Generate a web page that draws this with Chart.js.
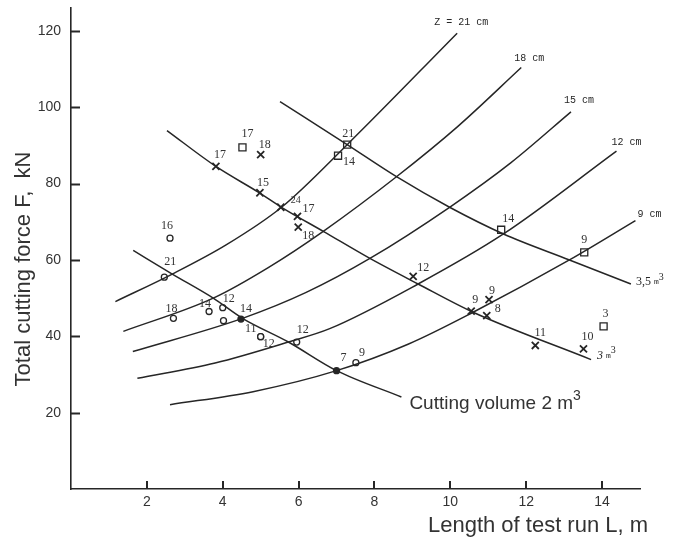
<!DOCTYPE html>
<html>
<head>
<meta charset="utf-8">
<script src="https://cdn.jsdelivr.net/npm/chart.js@4.4.0/dist/chart.umd.min.js"></script>
<style>
  body { margin: 0; background: #fff; }
  #wrap { width: 673px; height: 537px; }
</style>
</head>
<body>
<div id="wrap"><canvas id="chart" width="673" height="537"></canvas></div>
<script>
// axis ticks
const xTicks = [2, 4, 6, 8, 10, 12, 14];
const yTicks = [20, 40, 60, 80, 100, 120];

// depth curves Z : length L (m) -> force F (kN)
const z21L = [1.17, 2.67, 4.1, 5.55, 7.28, 10.18];
const z21F = [49.1, 56.3, 64.0, 73.8, 90.2, 119.4];
const z18L = [1.38, 3.75, 5.2, 6.65, 8.58, 10.2, 11.87];
const z18F = [41.3, 50.0, 58.0, 67.5, 81.8, 95.0, 110.4];
const z15L = [1.63, 4.52, 6.2, 7.88, 9.98, 11.6, 13.18];
const z15F = [36.0, 44.7, 51.5, 60.4, 73.8, 85.5, 98.8];
const z12L = [1.75, 3.8, 5.73, 6.82, 9.15, 11.4, 14.38];
const z12F = [29.0, 33.0, 38.5, 42.0, 53.7, 66.8, 88.5];
const z9L = [2.61, 4.8, 7.0, 8.9, 10.6, 13.14, 14.88];
const z9F = [22.1, 25.5, 31.0, 38.0, 46.3, 60.0, 70.3];

// cutting volume curves
const v2L = [1.64, 2.67, 3.75, 4.52, 5.73, 7.0, 8.71];
const v2F = [62.5, 56.3, 50.0, 44.7, 38.5, 31.0, 24.1];
const v3L = [2.53, 3.82, 4.98, 5.55, 6.65, 7.88, 9.15, 10.6, 13.71];
const v3F = [93.9, 84.5, 77.5, 73.8, 67.5, 60.4, 53.7, 46.3, 33.9];
const v35L = [5.51, 7.28, 8.58, 9.98, 11.4, 13.14, 14.76];
const v35F = [101.5, 90.2, 81.8, 73.8, 66.8, 60.0, 53.7];

// measured points
const circleL = [2.61, 2.46, 2.7, 3.64, 4.0, 4.02, 4.48, 5.0, 5.0, 5.95, 7.0, 7.51];
const circleF = [65.7, 55.5, 44.7, 46.5, 47.5, 44.1, 44.5, 39.9, 39.9, 38.5, 31.0, 33.1];
const circleTxt = ['16', '21', '18', '14', '12', '', '14', '11', '12', '12', '7', '9'];
const crossL = [3.82, 5.0, 4.98, 5.53, 5.97, 5.99, 9.02, 10.55, 11.02, 10.96, 12.24, 13.51];
const crossF = [84.5, 87.6, 77.6, 73.8, 71.4, 68.6, 55.7, 46.6, 49.6, 45.4, 37.6, 36.7];
const crossTxt = ['17', '18', '15', '24', '17', '18', '12', '9', '9', '8', '11', '10'];
const squareL = [4.52, 7.04, 7.28, 11.34, 13.53, 14.04];
const squareF = [89.5, 87.3, 90.2, 67.9, 62.0, 42.6];
const squareTxt = ['17', '14', '21', '14', '9', '3'];

// label placement (pixel offsets from the point)
const circleOff = [[-3,-12],[6,-15],[-2,-10],[-4,-8],[6,-9],[0,0],[5,-10],[-10,-8],[8,7],[6,-12],[7,-13],[6,-10]];
const crossOff = [[4,-12],[4,-10],[3,-10],[15,-7],[11,-8],[10,9],[10,-9],[4,-11],[3,-9],[11,-7],[5,-13],[4,-12]];
const squareOff = [[5,-13],[11,6],[1,-11],[7,-11],[0,-12],[2,-13]];
const filledCircles = [6, 10];

const INK = '#262626';

function pts(xs, ys) {
  return xs.map((x, i) => ({ x: x, y: ys[i] }));
}

function curve(xs, ys) {
  return {
    data: pts(xs, ys),
    showLine: true,
    borderColor: INK,
    borderWidth: 1.5,
    pointRadius: 0,
    cubicInterpolationMode: 'monotone',
    fill: false
  };
}

const curves = [
  { xs: z21L, ys: z21F },
  { xs: z18L, ys: z18F },
  { xs: z15L, ys: z15F },
  { xs: z12L, ys: z12F },
  { xs: z9L, ys: z9F },
  { xs: v2L, ys: v2F },
  { xs: v3L, ys: v3F },
  { xs: v35L, ys: v35F }
];

const datasets = curves.map(c => curve(c.xs, c.ys));
datasets.push({
  data: pts(circleL, circleF),
  pointStyle: 'circle',
  pointRadius: 3,
  borderWidth: 1.3,
  borderColor: INK,
  backgroundColor: circleL.map((v, i) => filledCircles.includes(i) ? INK : '#fff'),
  showLine: false
});
datasets.push({
  data: pts(crossL, crossF),
  pointStyle: 'crossRot',
  pointRadius: 5,
  borderWidth: 1.8,
  borderColor: INK,
  showLine: false
});
datasets.push({
  data: pts(squareL, squareF),
  pointStyle: 'rect',
  pointRadius: 5,
  borderWidth: 1.3,
  borderColor: INK,
  backgroundColor: '#fff',
  showLine: false
});

// text drawn in pieces so "m3" can have a raised 3
function drawParts(ctx, x, y, parts) {
  let cx = x;
  parts.forEach(p => {
    ctx.font = p.font;
    ctx.fillText(p.t, cx, y - (p.up || 0));
    cx += ctx.measureText(p.t).width;
  });
}

const annotate = {
  id: 'annotate',
  afterDraw(chart) {
    const ctx = chart.ctx;
    const xs = chart.scales.x, ys = chart.scales.y;
    const area = chart.chartArea;
    ctx.save();

    // inner tick marks
    ctx.strokeStyle = INK;
    ctx.lineWidth = 2;
    yTicks.forEach(v => {
      const py = Math.round(ys.getPixelForValue(v)) + 0.5;
      ctx.beginPath(); ctx.moveTo(area.left, py); ctx.lineTo(area.left + 9, py); ctx.stroke();
    });
    xTicks.forEach(v => {
      const px = Math.round(xs.getPixelForValue(v));
      ctx.beginPath(); ctx.moveTo(px, area.bottom); ctx.lineTo(px, area.bottom - 8); ctx.stroke();
    });

    // point numbers
    ctx.fillStyle = '#333';
    ctx.textAlign = 'center';
    ctx.textBaseline = 'middle';
    const groups = [
      [circleL, circleF, circleTxt, circleOff],
      [crossL, crossF, crossTxt, crossOff],
      [squareL, squareF, squareTxt, squareOff]
    ];
    groups.forEach(([gl, gf, gt, go]) => {
      gl.forEach((l, i) => {
        if (!gt[i]) return;
        ctx.font = gt[i] === '24' ? '10px "Liberation Serif"' : '12px "Liberation Serif"';
        ctx.fillText(gt[i], xs.getPixelForValue(l) + go[i][0], ys.getPixelForValue(gf[i]) + go[i][1]);
      });
    });

    // curve names at the ends
    ctx.textAlign = 'left';
    ctx.fillStyle = INK;
    const endOf = (L, F) => [xs.getPixelForValue(L[L.length - 1]), ys.getPixelForValue(F[F.length - 1])];
    const mono = '10px "Liberation Mono"';
    const depthNames = [
      [z21L, z21F, 'Z = 21 cm', -23, -11],
      [z18L, z18F, '18 cm', -7, -9],
      [z15L, z15F, '15 cm', -7, -11],
      [z12L, z12F, '12 cm', -5, -9],
      [z9L, z9F, '9 cm', 2, -6]
    ];
    depthNames.forEach(([L, F, t, dx, dy]) => {
      const [px, py] = endOf(L, F);
      ctx.font = mono;
      ctx.fillText(t, px + dx, py + dy);
    });

    let [px, py] = endOf(v35L, v35F);
    drawParts(ctx, px + 5, py - 2, [
      { t: '3,5 ', font: '12px "Liberation Serif"' },
      { t: 'm', font: '8px "Liberation Mono"' },
      { t: '3', font: '10px "Liberation Serif"', up: 5 }
    ]);
    [px, py] = endOf(v3L, v3F);
    drawParts(ctx, px + 6, py - 4, [
      { t: '3 ', font: 'italic 12px "Liberation Serif"' },
      { t: 'm', font: '8px "Liberation Mono"' },
      { t: '3', font: '10px "Liberation Serif"', up: 5 }
    ]);
    [px, py] = endOf(v2L, v2F);
    ctx.fillStyle = '#333';
    drawParts(ctx, px + 8, py + 7, [
      { t: 'Cutting volume 2 m', font: '19px "Liberation Sans"' },
      { t: '3', font: '14px "Liberation Sans"', up: 8 }
    ]);

    // axis titles
    ctx.fillStyle = '#333';
    ctx.font = '22px "Liberation Sans"';
    ctx.textAlign = 'center';
    ctx.fillText('Length of test run L, m', 538, 526);
    ctx.translate(24, 269);
    ctx.rotate(-Math.PI / 2);
    ctx.fillText('Total cutting force F,  kN', 0, 0);
    ctx.restore();
  }
};

new Chart(document.getElementById('chart'), {
  type: 'scatter',
  data: { datasets: datasets },
  options: {
    responsive: false,
    animation: false,
    devicePixelRatio: 1,
    layout: { padding: { top: 8, right: 33, left: 0, bottom: 0 } },
    plugins: { legend: { display: false }, tooltip: { enabled: false } },
    scales: {
      x: {
        type: 'linear', min: 0, max: 15,
        grid: { display: false, drawTicks: false },
        border: { display: true, color: INK, width: 1.6 },
        ticks: { color: '#333', font: { family: 'Liberation Sans', size: 14 }, padding: 5 },
        afterBuildTicks: s => { s.ticks = xTicks.map(v => ({ value: v })); },
        afterFit: s => { s.height = 48; s.paddingLeft = 0; s.paddingRight = 0; }
      },
      y: {
        type: 'linear', min: 0, max: 126,
        grid: { display: false, drawTicks: false },
        border: { display: true, color: INK, width: 1.6 },
        ticks: { color: '#333', font: { family: 'Liberation Sans', size: 14 }, padding: 10 },
        afterBuildTicks: s => { s.ticks = yTicks.map(v => ({ value: v })); },
        afterFit: s => { s.width = 71; s.paddingTop = 0; s.paddingBottom = 0; }
      }
    }
  },
  plugins: [annotate]
});
</script>
</body>
</html>
